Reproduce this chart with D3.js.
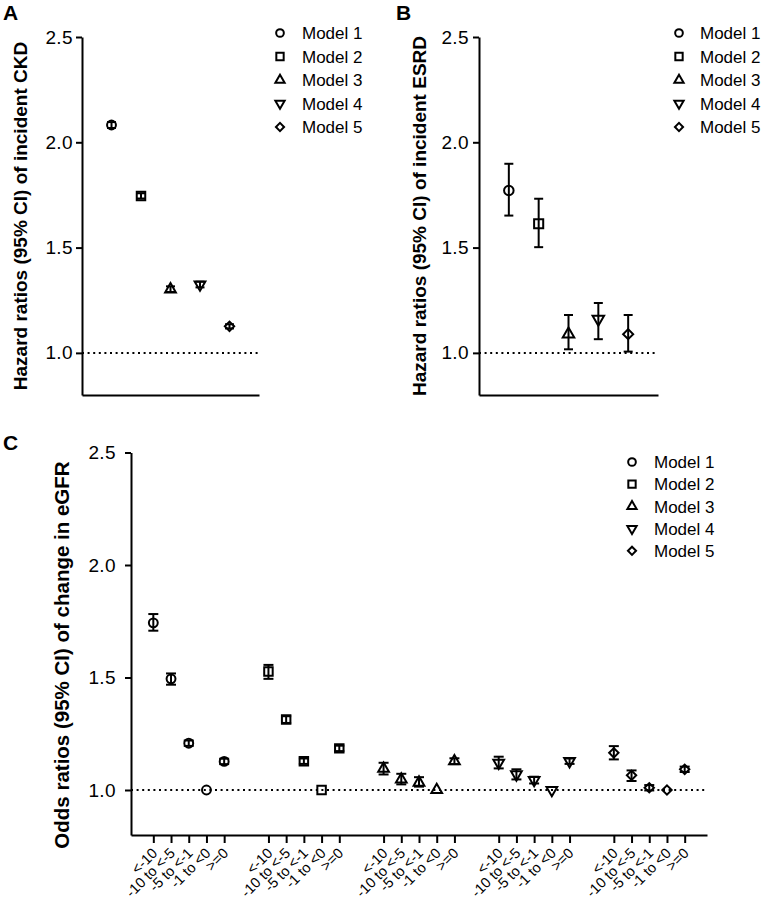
<!DOCTYPE html>
<html><head><meta charset="utf-8">
<script src="https://cdn.jsdelivr.net/npm/d3@7"></script>
<style>
body{margin:0;background:#fff}
text{font-family:"Liberation Sans",Arial,Helvetica,sans-serif;fill:#000}
</style>
</head><body>
<svg id="chart" width="762" height="904"></svg>
<script>
// ---------- DATA ----------
const models = ["Model 1", "Model 2", "Model 3", "Model 4", "Model 5"];
const yTicks = [1.0, 1.5, 2.0, 2.5];

// Panel A: incident CKD
const ckdHR = [2.082, 1.745, 1.302, 1.324, 1.126];
const ckdLo = [2.068, 1.733, 1.289, 1.311, 1.116];
const ckdHi = [2.096, 1.758, 1.316, 1.338, 1.136];

// Panel B: incident ESRD
const esrdHR = [1.771, 1.613, 1.089, 1.160, 1.089];
const esrdLo = [1.652, 1.502, 1.017, 1.065, 1.006];
const esrdHi = [1.898, 1.732, 1.180, 1.237, 1.180];

// Panel C: change in eGFR
const egfrCats = ["<-10", "-10 to <-5", "-5 to <-1", "-1 to <0", ">=0"];
const orM1 = [1.743, 1.494, 1.208, 1.000, 1.127];
const loM1 = [1.708, 1.468, 1.196, 1.000, 1.115];
const hiM1 = [1.782, 1.518, 1.220, 1.000, 1.139];
const orM2 = [1.527, 1.313, 1.128, 1.000, 1.185];
const loM2 = [1.494, 1.298, 1.116, 1.000, 1.173];
const hiM2 = [1.556, 1.328, 1.140, 1.000, 1.197];
const orM3 = [1.095, 1.047, 1.033, 1.000, 1.128];
const loM3 = [1.069, 1.025, 1.015, 1.000, 1.115];
const hiM3 = [1.121, 1.072, 1.057, 1.000, 1.141];
const orM4 = [1.121, 1.069, 1.044, 1.000, 1.128];
const loM4 = [1.096, 1.047, 1.029, 1.000, 1.116];
const hiM4 = [1.148, 1.092, 1.059, 1.000, 1.140];
const orM5 = [1.165, 1.065, 1.010, 1.000, 1.092];
const loM5 = [1.136, 1.040, 0.998, 1.000, 1.080];
const hiM5 = [1.195, 1.087, 1.022, 1.000, 1.104];

// ---------- DRAWING ----------
const svg = d3.select("#chart");
const FONT = '"Liberation Sans",Arial,Helvetica,sans-serif';

const symTypes = [d3.symbolCircle, d3.symbolSquare, d3.symbolTriangle, d3.symbolTriangle, d3.symbolSquare];
const symSizes = [62, 72, 50, 50, 44];
const symRot = [0, 0, 0, 180, 45];

function marker(g, i, cx, cy, scale, sw) {
  g.append("path")
    .attr("d", d3.symbol().type(symTypes[i]).size(symSizes[i] * scale)())
    .attr("transform", `translate(${cx},${cy}) rotate(${symRot[i]})`)
    .attr("fill", "none").attr("stroke", "#000").attr("stroke-width", sw);
}

function errBar(g, cx, yLo, yHi, capW) {
  if (Math.abs(yLo - yHi) < 0.5) return;
  g.append("line").attr("x1", cx).attr("x2", cx).attr("y1", yLo).attr("y2", yHi)
    .attr("stroke", "#000").attr("stroke-width", 2);
  [yLo, yHi].forEach(yy => g.append("line")
    .attr("x1", cx - capW / 2).attr("x2", cx + capW / 2).attr("y1", yy).attr("y2", yy)
    .attr("stroke", "#000").attr("stroke-width", 2));
}

function styleAxis(sel) {
  sel.select(".domain").attr("stroke", "#000").attr("stroke-width", 2);
  sel.selectAll(".tick line").attr("stroke", "#000").attr("stroke-width", 2);
  sel.selectAll(".tick text").attr("font-family", FONT).attr("fill", "#000");
}

function yAxis(g, y, x0, pad, fs) {
  const a = g.append("g").attr("transform", `translate(${x0},0)`)
    .call(d3.axisLeft(y).tickValues(yTicks).tickFormat(d3.format(".1f"))
      .tickSize(6).tickSizeOuter(0).tickPadding(pad));
  styleAxis(a);
  a.selectAll(".tick text").attr("font-size", fs).attr("letter-spacing", "0.4px");
  return a;
}

function legend(g, mx, tx, y0, dy) {
  models.forEach((m, i) => {
    marker(g, i, mx, y0 + i * dy, 0.75, 2);
    g.append("text").attr("x", tx).attr("y", y0 + i * dy).attr("dy", "0.36em")
      .attr("font-size", 17).text(m);
  });
}

function refLine(g, y, x0, x1) {
  g.append("line").attr("x1", x0).attr("x2", x1).attr("y1", y(1)).attr("y2", y(1))
    .attr("stroke", "#000").attr("stroke-width", 2).attr("stroke-dasharray", "2,3.6");
}

function title(g, txt, cx, cy, fs) {
  g.append("text").attr("transform", `translate(${cx},${cy}) rotate(-90)`)
    .attr("text-anchor", "middle").attr("font-weight", "bold").attr("font-size", fs).text(txt);
}

function panelLabel(g, txt, x, y) {
  g.append("text").attr("x", x).attr("y", y).attr("font-weight", "bold")
    .attr("font-size", 21).text(txt);
}

// Panel A / B common
function hrPanel(cfg, hr, lo, hi) {
  const g = svg.append("g");
  const y = d3.scaleLinear().domain([0.8, 2.5]).range([cfg.bottom, cfg.top]);
  const x = d3.scalePoint().domain(models).range([cfg.left, cfg.right]).padding(1);
  refLine(g, y, cfg.left, cfg.right);
  yAxis(g, y, cfg.left, cfg.pad, 19);
  const xa = g.append("g").attr("transform", `translate(0,${cfg.bottom})`)
    .call(d3.axisBottom(x).tickValues([]).tickSizeOuter(0));
  styleAxis(xa);
  models.forEach((m, i) => {
    errBar(g, x(m), y(lo[i]), y(hi[i]), 9);
    marker(g, i, x(m), y(hr[i]), cfg.ms, 2);
  });
  title(g, cfg.title, cfg.titleX, (cfg.top + cfg.bottom) / 2, 19);
  panelLabel(g, cfg.label, cfg.labelX, 20);
  legend(g, cfg.legMx, cfg.legTx, 33, 23.5);
}

hrPanel({left: 82, right: 259, top: 37, bottom: 395, pad: 3, ms: 1.0,
  title: "Hazard ratios (95% CI) of incident CKD", titleX: 27, label: "A", labelX: 3,
  legMx: 280, legTx: 302}, ckdHR, ckdLo, ckdHi);

hrPanel({left: 479, right: 658, top: 37, bottom: 395, pad: 4, ms: 1.15,
  title: "Hazard ratios (95% CI) of incident ESRD", titleX: 426, label: "B", labelX: 396,
  legMx: 679, legTx: 700}, esrdHR, esrdLo, esrdHi);

// Panel C
(function () {
  const g = svg.append("g");
  const left = 131, right = 707, top = 452.5, bottom = 835;
  const y = d3.scaleLinear().domain([0.8, 2.5]).range([bottom, top]);
  const groupStep = 6.5;
  const x = d3.scaleLinear().domain([-1.26, 4 * groupStep + 4 + 1.26]).range([left, right]);
  const orData = [orM1, orM2, orM3, orM4, orM5];
  const loData = [loM1, loM2, loM3, loM4, loM5];
  const hiData = [hiM1, hiM2, hiM3, hiM4, hiM5];
  const pos = [];
  models.forEach((m, mi) => egfrCats.forEach((c, ci) => pos.push({mi, ci, p: mi * groupStep + ci})));

  refLine(g, y, left, right);
  yAxis(g, y, left, 9, 19);
  const xa = g.append("g").attr("transform", `translate(0,${bottom})`)
    .call(d3.axisBottom(x).tickValues(pos.map(d => d.p)).tickFormat("")
      .tickSize(8).tickSizeOuter(0));
  styleAxis(xa);

  pos.forEach(d => {
    g.append("text")
      .attr("transform", `translate(${x(d.p) + 5},${bottom + 19}) rotate(-45)`)
      .attr("text-anchor", "end").attr("font-size", 14.5).text(egfrCats[d.ci]);
  });

  pos.forEach(d => {
    const cx = x(d.p);
    errBar(g, cx, y(loData[d.mi][d.ci]), y(hiData[d.mi][d.ci]), 10);
    marker(g, d.mi, cx, y(orData[d.mi][d.ci]), 1.0, 2);
  });

  title(g, "Odds ratios (95% CI) of change in eGFR", 69, 655, 20.5);
  panelLabel(g, "C", 3, 450);
  legend(g, 632, 654, 462, 22.2);
})();
</script>
</body></html>
